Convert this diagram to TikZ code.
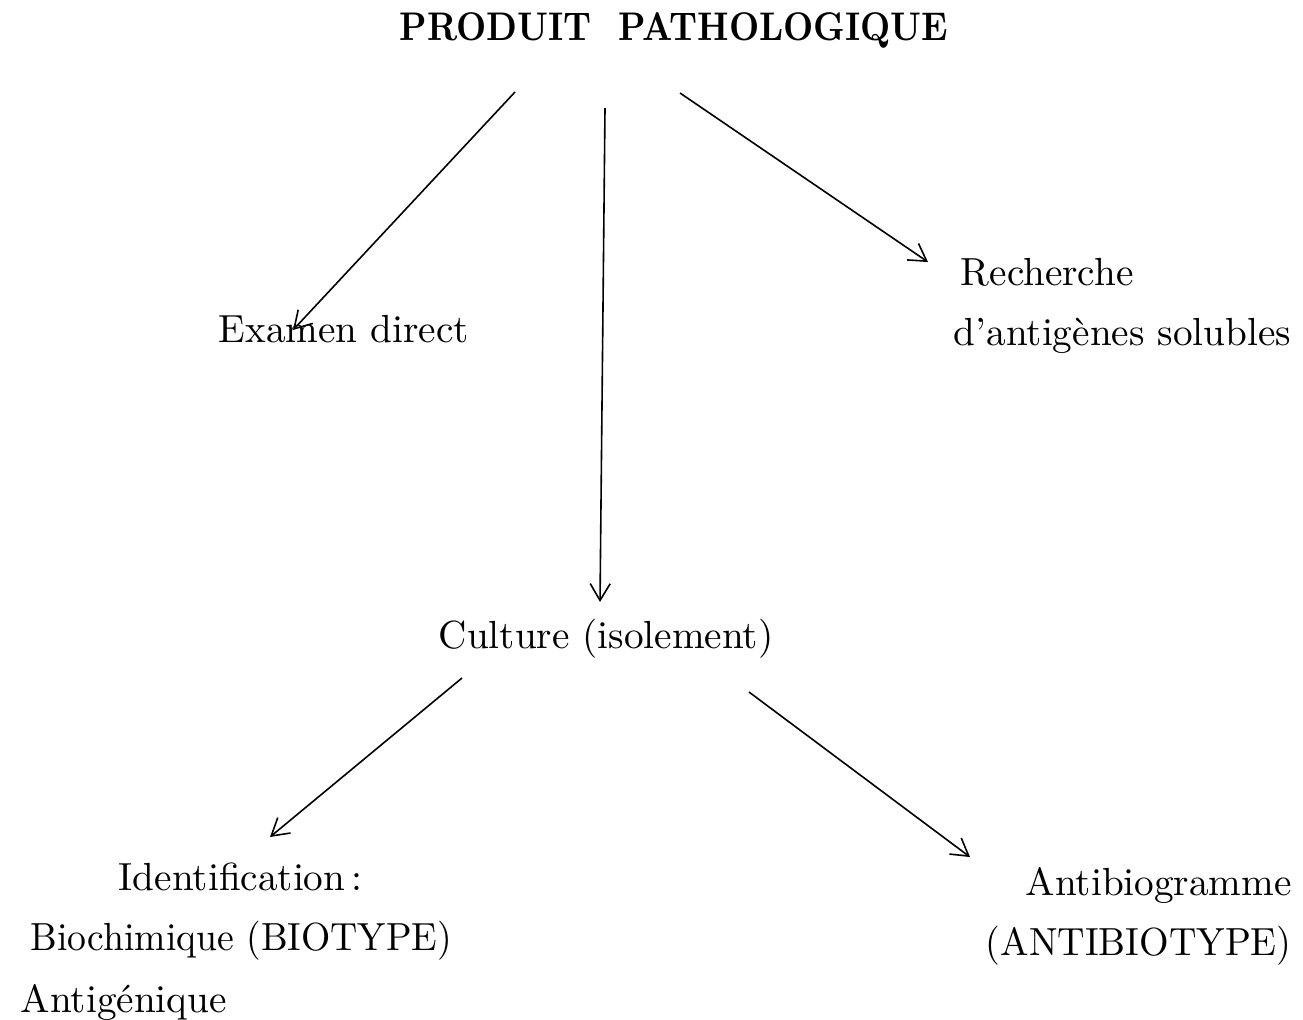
\documentclass[tikz,border=0pt]{standalone}
\usetikzlibrary{arrows.meta}
\begin{document}
\begin{tikzpicture}[x=0.25pt,y=-0.25pt,
  lbl/.style={inner sep=0pt,anchor=base west,font=\fontsize{9.8}{12}\selectfont},
  ttl/.style={inner sep=0pt,anchor=base,font=\bfseries\fontsize{10}{12}\selectfont},
  arr/.style={line width=0.4pt,-{Straight Barb[length=4.2pt,width=5pt,line width=0.4pt]}}]
\useasboundingbox[fill=white] (0,0) rectangle (1303,1019);
\node[ttl] (title) at (674,40) {\scalebox{0.875}[1]{PRODUIT\ \ PATHOLOGIQUE}};
\node[lbl] (exam) at (218,342) {Examen direct};
\node[lbl] (rech1) at (960,285) {Recherche};
\node[lbl] (rech2) at (953,345) {d'antig\`enes solubles};
\node[lbl] (cult) at (438,648) {Culture (isolement)};
\node[lbl] (ident) at (118,890) {Identification\,:};
\node[lbl] (bio) at (30,950) {\scalebox{0.96}[1]{Biochimique (BIOTYPE)}};
\node[lbl] (antig) at (20,1012) {Antig\'enique};
\node[lbl] (antib) at (1025,895) {Antibiogramme};
\node[lbl] (antibt) at (985,955) {\scalebox{0.97}[1]{(ANTIBIOTYPE)}};
\coordinate (s1) at (515,92);  \coordinate (e1) at (293,330);
\coordinate (s2) at (605,108); \coordinate (e2) at (600,602);
\coordinate (s3) at (680,93);  \coordinate (e3) at (928,262);
\coordinate (s4) at (462,678); \coordinate (e4) at (270,837);
\coordinate (s5) at (749,692); \coordinate (e5) at (970,857);
\draw[arr] (s1) -- (e1);
\draw[arr] (s2) -- (e2);
\draw[arr] (s3) -- (e3);
\draw[arr] (s4) -- (e4);
\draw[arr] (s5) -- (e5);
\end{tikzpicture}
\end{document}
